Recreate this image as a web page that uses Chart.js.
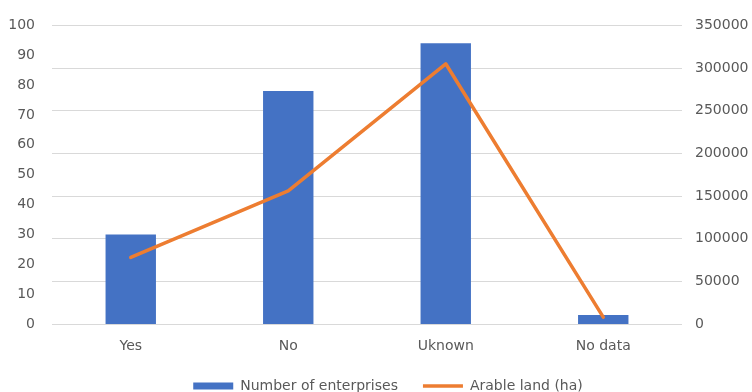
<!DOCTYPE html>
<html>
<head>
<meta charset="utf-8">
<script src="https://cdn.jsdelivr.net/npm/chart.js@4/dist/chart.umd.min.js"></script>
<style>
  html, body { margin: 0; padding: 0; background: #ffffff; }
  #wrap { width: 752px; height: 392px; }
</style>
</head>
<body>
<div id="wrap"><canvas id="chart" width="752" height="392"></canvas></div>
<script>
// Categories and the two series
const categories = ['Yes', 'No', 'Uknown', 'No data'];
const enterprises = [30, 78, 94, 3];                 // number of enterprises (left axis)
const arableLand = [78000, 156000, 305000, 8000];    // arable land in ha (right axis)

// Axis ranges
const countAxis = { min: 0, max: 100, step: 10 };
const landAxis = { min: 0, max: 350000, step: 50000 };

const textColor = '#595959';
const gridColor = '#d9d9d9';
const font = { family: 'DejaVu Sans', size: 14 };

// Centre the legend row over the span that starts at the left axis labels
const legendOffset = {
  id: 'legendOffset',
  afterLayout(chart) {
    if (chart.legend) { chart.legend.left += 24; }
  }
};

new Chart(document.getElementById('chart'), {
  plugins: [legendOffset],
  data: {
    labels: categories,
    datasets: [
      {
        type: 'bar',
        label: 'Number of enterprises',
        data: enterprises,
        yAxisID: 'y',
        backgroundColor: '#4472c4',
        borderWidth: 0,
        categoryPercentage: 1,
        barPercentage: 0.32,
        order: 1
      },
      {
        type: 'line',
        label: 'Arable land (ha)',
        data: arableLand,
        yAxisID: 'y1',
        borderColor: '#ed7d31',
        backgroundColor: '#ed7d31',
        borderWidth: 3.5,
        borderCapStyle: 'round',
        borderJoinStyle: 'round',
        tension: 0,
        pointRadius: 0,
        pointHoverRadius: 0,
        fill: false,
        order: 0
      }
    ]
  },
  options: {
    responsive: false,
    devicePixelRatio: 1,
    animation: false,
    layout: { padding: { top: 23, left: 0, right: 0, bottom: 0 } },
    plugins: {
      tooltip: { enabled: false },
      legend: {
        position: 'bottom',
        maxHeight: 38,
        labels: {
          font: font,
          color: textColor,
          usePointStyle: true,
          pointStyleWidth: 40,
          boxHeight: 7,
          padding: 25,
          sort: (a, b) => a.datasetIndex - b.datasetIndex,
          generateLabels: (chart) => chart.data.datasets.map((ds, i) => ({
            text: ds.label,
            datasetIndex: i,
            fillStyle: ds.type === 'bar' ? ds.backgroundColor : 'transparent',
            strokeStyle: ds.type === 'bar' ? ds.backgroundColor : ds.borderColor,
            lineWidth: ds.type === 'bar' ? 0 : 3.5,
            lineCap: 'butt',
            pointStyle: ds.type === 'bar' ? 'rect' : 'line',
            fontColor: textColor,
            hidden: false
          }))
        }
      }
    },
    scales: {
      x: {
        type: 'category',
        grid: { display: false, drawTicks: false },
        border: { display: false },
        ticks: { font: font, color: textColor, padding: 14, maxRotation: 0 },
        afterFit: (scale) => { scale.height = 30; }
      },
      y: {
        type: 'linear',
        position: 'left',
        min: countAxis.min,
        max: countAxis.max,
        grid: { display: false, drawTicks: false },
        border: { display: false },
        ticks: { stepSize: countAxis.step, font: font, color: textColor, padding: 17 },
        afterFit: (scale) => { scale.width = 52; }
      },
      y1: {
        type: 'linear',
        position: 'right',
        min: landAxis.min,
        max: landAxis.max,
        grid: { display: true, color: gridColor, lineWidth: 1, drawTicks: false },
        border: { display: false },
        ticks: {
          stepSize: landAxis.step,
          font: font,
          color: textColor,
          padding: 13,
          callback: (v) => String(v)
        },
        afterFit: (scale) => { scale.width = 70; }
      }
    }
  }
});
</script>
</body>
</html>
